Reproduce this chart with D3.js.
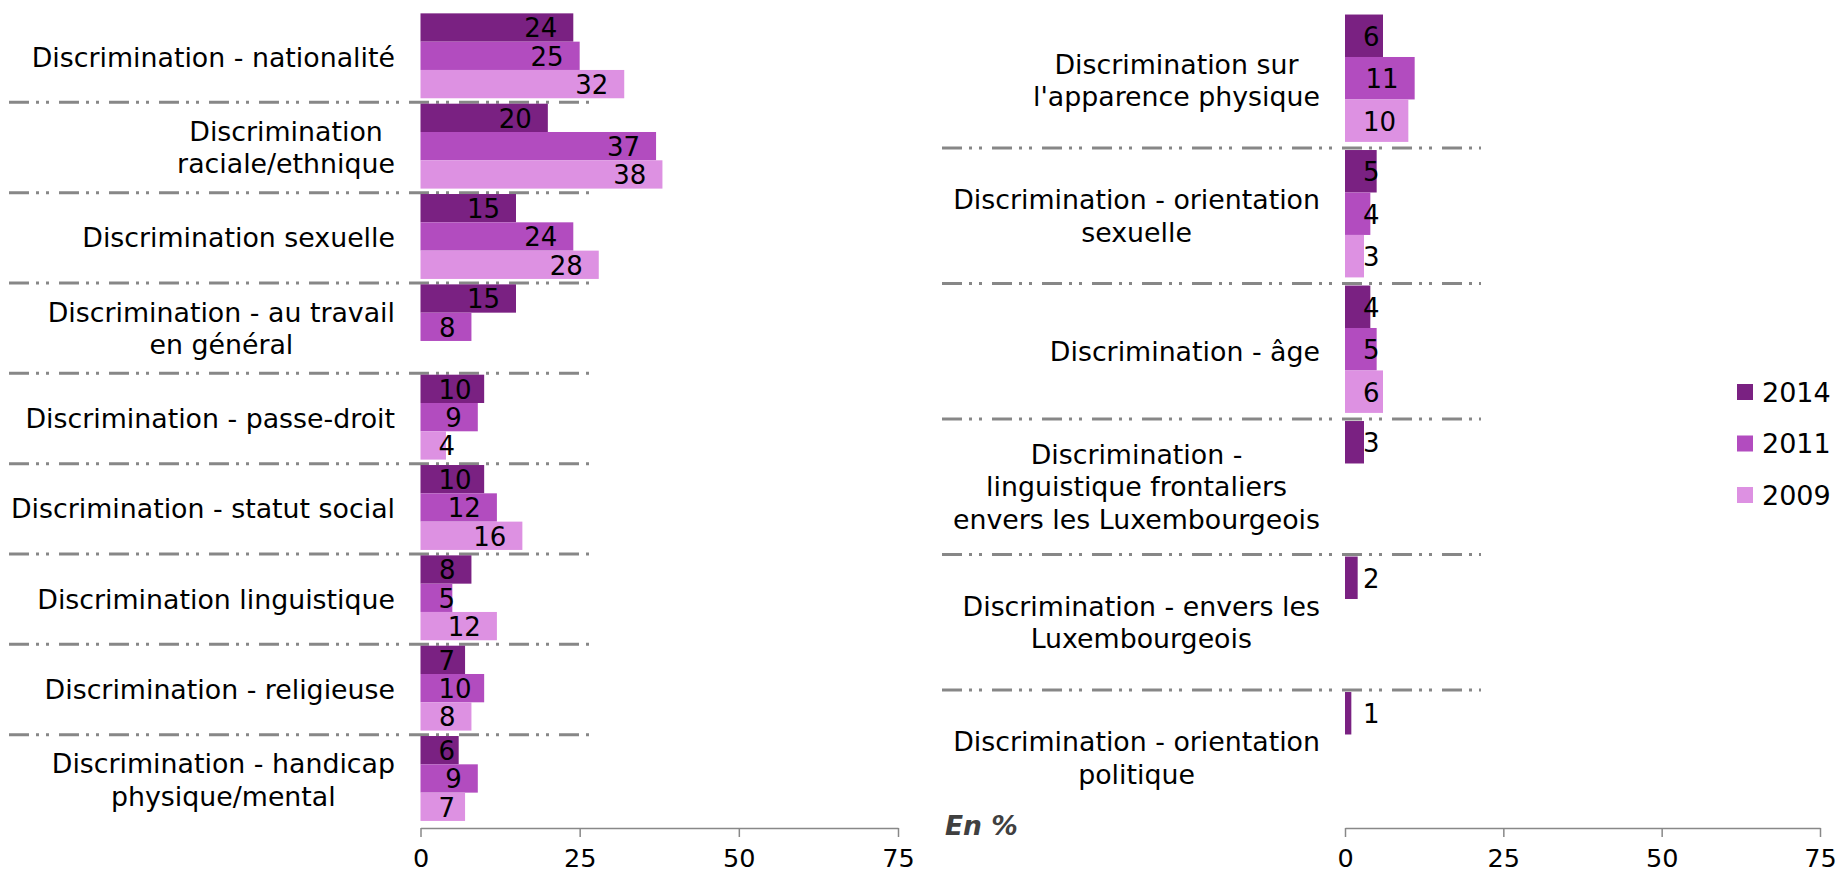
<!DOCTYPE html>
<html>
<head>
<meta charset="utf-8">
<script src="https://cdn.jsdelivr.net/npm/d3@7/dist/d3.min.js"></script>
<style>
  html, body { margin: 0; padding: 0; background: #fff; }
  svg { display: block; font-family: "DejaVu Sans", Verdana, sans-serif; }
</style>
</head>
<body>
<svg id="chart" width="1839" height="876"></svg>
<script>
// ---------- DATA ----------
const seriesNames = ["2014", "2011", "2009"];
const seriesColors = ["#7a2182", "#b24cbf", "#dd91e2"];

const categoriesLeft = [
  "Discrimination - nationalité",
  "Discrimination\nraciale/ethnique",
  "Discrimination sexuelle",
  "Discrimination - au travail\nen général",
  "Discrimination - passe-droit",
  "Discrimination - statut social",
  "Discrimination linguistique",
  "Discrimination - religieuse",
  "Discrimination - handicap\nphysique/mental"
];
const values2014Left = [24, 20, 15, 15, 10, 10, 8, 7, 6];
const values2011Left = [25, 37, 24, 8, 9, 12, 5, 10, 9];
const values2009Left = [32, 38, 28, null, 4, 16, 12, 8, 7];

const categoriesRight = [
  "Discrimination sur\nl'apparence physique",
  "Discrimination - orientation\nsexuelle",
  "Discrimination - âge",
  "Discrimination -\nlinguistique frontaliers\nenvers les Luxembourgeois",
  "Discrimination - envers les\nLuxembourgeois",
  "Discrimination - orientation\npolitique"
];
const values2014Right = [6, 5, 4, 3, 2, 1];
const values2011Right = [11, 4, 5, null, null, null];
const values2009Right = [10, 3, 6, null, null, null];

const tickValues = [0, 25, 50, 75];
const unitLabel = "En %";

// ---------- DRAW ----------
const svg = d3.select("#chart");

function drawPanel(cfg) {
  const g = svg.append("g");
  const x = d3.scaleLinear().domain([0, 75]).range(cfg.xRange);
  const y = d3.scaleBand().domain(cfg.categories).range(cfg.yRange).paddingInner(0).paddingOuter(0);
  const step = y.step();
  const inner = d3.scaleBand().domain(seriesNames)
    .range([step * 0.015, step * 0.955]).paddingInner(0).paddingOuter(0);

  const rows = [];
  cfg.categories.forEach((c, i) => {
    cfg.series.forEach((arr, s) => {
      if (arr[i] != null) rows.push({ cat: c, series: seriesNames[s], color: seriesColors[s], value: arr[i] });
    });
  });

  // separators
  const seps = cfg.categories.slice(1);
  g.selectAll("line.sep").data(seps).join("line")
    .attr("class", "sep")
    .attr("x1", cfg.sepX[0]).attr("x2", cfg.sepX[1])
    .attr("y1", d => y(d)).attr("y2", d => y(d))
    .attr("stroke", "#878787").attr("stroke-width", 3)
    .attr("stroke-dasharray", "20,7,3,7,3,10");

  // bars
  g.selectAll("rect.bar").data(rows).join("rect")
    .attr("class", "bar")
    .attr("x", x(0))
    .attr("y", d => y(d.cat) + inner(d.series))
    .attr("width", d => x(d.value) - x(0))
    .attr("height", inner.bandwidth())
    .attr("fill", d => d.color);

  // value labels
  const labels = g.selectAll("text.val").data(rows).join("text")
    .attr("class", "val")
    .attr("font-size", 26)
    .attr("fill", "#000")
    .attr("text-anchor", "end")
    .attr("y", d => y(d.cat) + inner(d.series) + inner.bandwidth() / 2)
    .attr("dy", "0.38em")
    .text(d => d.value);
  labels.each(function(d) {
    const w = this.getComputedTextLength();
    const xr = Math.max(x(d.value) - 16, x(0) + 18 + w);
    d3.select(this).attr("x", xr);
  });

  // category labels
  const lineH = 32.5;
  cfg.categories.forEach(c => {
    const lines = c.split("\n");
    const cy = y(c) + step / 2;
    const tg = g.append("g");
    const texts = lines.map((ln, k) => tg.append("text")
      .attr("font-size", 26.8)
      .attr("fill", "#000")
      .attr("text-anchor", "middle")
      .attr("y", cy + (k - (lines.length - 1) / 2) * lineH)
      .attr("dy", "0.36em")
      .text(ln));
    const maxW = d3.max(texts, t => t.node().getComputedTextLength());
    texts.forEach(t => t.attr("x", cfg.labelRight - maxW / 2));
  });

  // axis
  const axis = d3.axisBottom(x).tickValues(tickValues).tickSize(9).tickSizeOuter(0).tickPadding(12);
  const ag = g.append("g").attr("transform", `translate(0,${cfg.axisY})`).call(axis);
  ag.select(".domain").attr("stroke", "#888").attr("stroke-width", 1.5);
  ag.selectAll(".tick line").attr("stroke", "#888").attr("stroke-width", 1.5);
  ag.selectAll(".tick text").attr("font-size", 25.5).attr("fill", "#000")
    .attr("font-family", "DejaVu Sans, Verdana, sans-serif");
}

drawPanel({
  categories: categoriesLeft,
  series: [values2014Left, values2011Left, values2009Left],
  xRange: [420.5, 898],
  yRange: [12, 825],
  labelRight: 395,
  sepX: [9, 590],
  axisY: 828
});

drawPanel({
  categories: categoriesRight,
  series: [values2014Right, values2011Right, values2009Right],
  xRange: [1345, 1820],
  yRange: [12.5, 825.5],
  labelRight: 1320,
  sepX: [942, 1481],
  axisY: 828
});

// unit label
svg.append("text")
  .attr("x", 945).attr("y", 825).attr("dy", "0.36em")
  .attr("font-size", 26.5).attr("font-weight", "bold").attr("font-style", "italic")
  .attr("fill", "#404040")
  .text(unitLabel);

// legend
const legend = svg.append("g").attr("class", "legend");
const legY = d3.scalePoint().domain(seriesNames).range([392, 495]);
seriesNames.forEach((s, i) => {
  legend.append("rect")
    .attr("x", 1737).attr("y", legY(s) - 8)
    .attr("width", 16).attr("height", 16)
    .attr("fill", seriesColors[i]);
  legend.append("text")
    .attr("x", 1762).attr("y", legY(s)).attr("dy", "0.36em")
    .attr("font-size", 27).attr("fill", "#000")
    .text(s);
});
</script>
</body>
</html>
